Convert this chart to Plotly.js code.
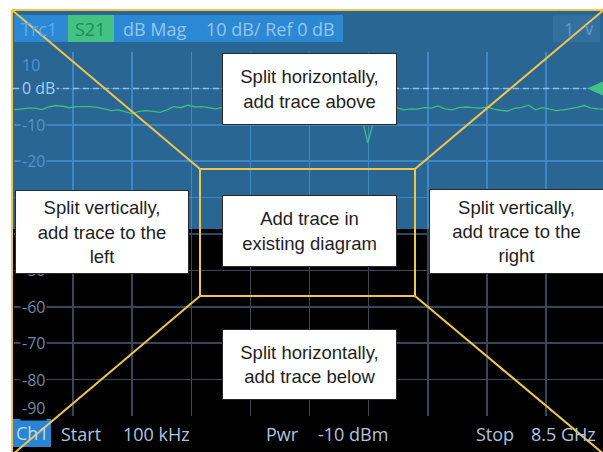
<!DOCTYPE html>
<html><head><meta charset="utf-8">
<script src="https://cdn.plot.ly/plotly-3.0.1.min.js"></script>
<style>html,body{margin:0;padding:0;background:#fff;overflow:hidden}#chart{width:603px;height:452px}</style>
</head><body><div id="chart"></div>
<script>
// ---- data ----
const freqGHz = [0.0,0.1,0.2,0.3,0.4,0.5,0.6,0.7,0.8,0.9,1.0,1.1,1.2,1.3,1.4,1.5,1.6,1.7,1.8,1.9,
  2.0,2.1,2.2,2.3,2.4,2.5,2.6,2.7,2.8,2.9,3.0,3.1,3.2,3.3,3.4,3.5,3.6,3.7,3.8,3.9,
  4.0,4.1,4.2,4.3,4.4,4.5,4.6,4.7,4.8,4.9,4.95,5.0,5.03,5.06,5.09,5.12,5.15,5.2,5.25,5.3,
  5.4,5.5,5.6,5.7,5.8,5.9,6.0,6.1,6.2,6.3,6.4,6.5,6.6,6.7,6.8,6.9,7.0,7.1,7.2,7.3,
  7.4,7.5,7.6,7.7,7.8,7.9,8.0,8.1,8.2,8.3,8.4,8.5];
const s21dB = [-5.9,-5.6,-5.4,-5.4,-5.8,-5.1,-4.7,-4.9,-5.3,-5.0,-4.9,-5.0,-5.2,-5.6,-6.1,-5.9,-6.4,-6.9,-6.3,-6.1,
  -6.3,-6.6,-5.9,-5.0,-5.3,-4.6,-5.1,-5.0,-5.3,-5.6,-5.2,-5.4,-5.1,-5.6,-5.3,-5.0,-5.5,-5.2,-5.7,-5.3,
  -5.1,-5.4,-5.6,-5.2,-5.0,-5.4,-5.3,-5.5,-5.2,-5.3,-5.6,-8.0,-10.2,-12.6,-15.0,-12.8,-10.5,-6.6,-5.5,-5.3,
  -5.6,-5.2,-5.9,-5.6,-5.7,-5.3,-5.4,-4.8,-5.6,-5.9,-5.3,-5.1,-5.3,-5.4,-5.1,-5.7,-6.0,-6.2,-5.5,-5.2,
  -4.6,-5.9,-5.3,-5.6,-6.1,-5.9,-5.6,-5.2,-4.7,-5.4,-5.6,-5.7];
// tick labels visible in the picture (-30 and -40 lie hidden behind the left box)
const yTickVals = [10,0,-10,-20,-50,-60,-70,-80,-90];
const yTickText = ['10','0 dB','-10','-20','-50','-60','-70','-80','-90'];
const startGHz = 0.0001, stopGHz = 8.5, refLevel = 0, scaleDiv = 10;
const headerLabels = ['Trc1','S21','dB Mag','10 dB/ Ref 0 dB','1','\u2228'];
const footerLabels = ['Ch1','Start','100 kHz','Pwr','-10 dBm','Stop','8.5 GHz'];
const boxTexts = ['Split horizontally,<br>add trace above','Add trace in<br>existing diagram',
  'Split vertically,<br>add trace to the<br>left','Split vertically,<br>add trace to the<br>right',
  'Split horizontally,<br>add trace below'];

// ---- geometry helpers (pixel -> paper) ----
const PL=14, PR=603, PT=52, PB=416;
const px2x = p => (p-PL)/(PR-PL);
const py2y = p => (PB-p)/(PB-PT);
const yTop = 10, yBot = -90;
const splitPx = 229;
const splitFrac = py2y(splitPx);
const splitDb = yTop - (splitPx-PT)/(PB-PT)*(yTop-yBot);
const xMax = startGHz + (stopGHz-startGHz)*(PR-PL)/591;
const dtickX = (stopGHz-startGHz)/10;

const blueBg='#2a6694', gridBlue='#3f87c4', gridDark='#34475b', tabBlue='#2d88d4';
const yellow='#efc54a';
const uiFont='Open Sans';

const trace = {x:freqGHz, y:s21dB, type:'scatter', mode:'lines', xaxis:'x', yaxis:'y',
  line:{color:'#3dbd7d', width:1.3}, hoverinfo:'skip'};

const xCommon = {range:[startGHz,xMax], tick0:startGHz, dtick:dtickX, showticklabels:false,
  ticks:'', zeroline:false, showline:false, gridwidth:1.6, fixedrange:true};
const layout = {
  width:603, height:452, margin:{l:PL, r:603-PR, t:PT, b:452-PB, pad:0},
  paper_bgcolor:'#ffffff', plot_bgcolor:'rgba(0,0,0,0)', showlegend:false,
  xaxis:Object.assign({}, xCommon, {anchor:'y', gridcolor:gridBlue}),
  xaxis2:Object.assign({}, xCommon, {anchor:'y2', gridcolor:gridDark}),
  yaxis:{domain:[splitFrac,1], range:[splitDb,yTop+0.01], tick0:0, dtick:scaleDiv, showticklabels:false,
    ticks:'', zeroline:false, showline:false, gridcolor:gridBlue, gridwidth:1.6, anchor:'x', fixedrange:true},
  yaxis2:{domain:[0,splitFrac], range:[yBot-0.01,splitDb], tick0:0, dtick:scaleDiv, showticklabels:false,
    ticks:'', zeroline:false, showline:false, gridcolor:gridDark, gridwidth:1.6, anchor:'x2', fixedrange:true},
  shapes:[], annotations:[]
};
const S = layout.shapes, A = layout.annotations;
function rectPx(x0,y0,x1,y1,fill,layer){S.push({type:'rect',xref:'paper',yref:'paper',x0:px2x(x0),x1:px2x(x1),
  y0:py2y(y1),y1:py2y(y0),fillcolor:fill,line:{width:0},layer:layer||'above'});}
function linePx(x0,y0,x1,y1){S.push({type:'line',xref:'paper',yref:'paper',x0:px2x(x0),y0:py2y(y0),
  x1:px2x(x1),y1:py2y(y1),line:{color:yellow,width:2},layer:'above'});}
function textPx(t,x,y,color,size,anchor,font){A.push({text:t,xref:'paper',yref:'paper',x:px2x(x),y:py2y(y),
  xanchor:anchor||'left',yanchor:'middle',showarrow:false,font:{family:font||uiFont,size:size||18,color:color}});}

// backgrounds
rectPx(12,10,606,splitPx,blueBg,'below');
rectPx(12,splitPx,606,460,'#000000','below');

// reference line and marker
S.push({type:'line',xref:'paper',yref:'y',x0:px2x(13),x1:px2x(586),y0:refLevel,y1:refLevel,
  line:{color:'#8fc0ea',width:1.5,dash:'6px,4px'},layer:'above'});
S.push({type:'path',xref:'paper',yref:'y',path:`M ${px2x(587)} ${refLevel} L ${px2x(607)} ${refLevel+2.4} L ${px2x(607)} ${refLevel-2.4} Z`,
  fillcolor:'#40c384',line:{width:0},layer:'above'});

// header tabs
rectPx(14,15,68,42,tabBlue); rectPx(68,15,114,42,'#44c283'); rectPx(114,15,343,42,tabBlue); rectPx(553,15,600,42,'#336f9f');
textPx(headerLabels[0],19,29,'#5eaaea');
textPx(headerLabels[1],73,29,'#1f8b57');
textPx(headerLabels[2],121,29,'#93c6f2');
textPx(headerLabels[3],204,29,'#93c6f2');
textPx(headerLabels[4],562,29,'#5d97cc');
textPx(headerLabels[5],581,29,'#5d97cc',17,'left','DejaVu Sans');

// footer
rectPx(13,419,51,447,'#2a84d4');
textPx(footerLabels[0],32,433,'#b9dcfa',18,'center');
const footX=[null,59,121,264,316,474,529];
for(let i=1;i<footerLabels.length;i++) textPx(footerLabels[i],footX[i],434,'#aec6de');

// y tick labels
yTickVals.forEach((v,i)=>{
  const top = v > splitDb;
  let col = top ? '#4e94cf' : '#7189a3';
  if (v===refLevel) col='#a2cdf2';
  A.push({text:yTickText[i],xref:'paper',yref:top?'y':'y2',x:px2x(20),y:v,xanchor:'left',yanchor:'middle',
    showarrow:false,bgcolor:top?blueBg:'#000000',borderpad:1,
    yshift: v===yTop ? -13 : (v===yBot ? 8 : 0),
    font:{family:uiFont,size:16,color:col}});
});

// yellow overlay
linePx(12,10,606,10); linePx(12,10,12,460);
linePx(12,10,200,169); linePx(606,8,415,169); linePx(200,296,12,455); linePx(415,296,606,456);
S.push({type:'rect',xref:'paper',yref:'paper',x0:px2x(200),x1:px2x(415),y0:py2y(296),y1:py2y(169),
  line:{color:yellow,width:2},fillcolor:'rgba(0,0,0,0)',layer:'above'});

// text boxes
const boxes=[[222,53,397,125],[222,195,397,267],[15,190,189,274],[429,189,604,274],[222,329,397,400]];
boxes.forEach((b,i)=>{
  A.push({text:boxTexts[i],xref:'paper',yref:'paper',x:px2x((b[0]+b[2])/2),y:py2y((b[1]+b[3])/2),
    xanchor:'center',yanchor:'middle',showarrow:false,width:b[2]-b[0]-2,height:b[3]-b[1]-2,
    bgcolor:'#ffffff',bordercolor:'#2a2a2a',borderwidth:1,borderpad:0,align:'center',valign:'middle',
    font:{family:'Liberation Sans, Arial, sans-serif',size:18.5,color:'#1e1e1e'}});
});

Plotly.newPlot('chart',[trace],layout,{staticPlot:true,displayModeBar:false});
</script></body></html>
